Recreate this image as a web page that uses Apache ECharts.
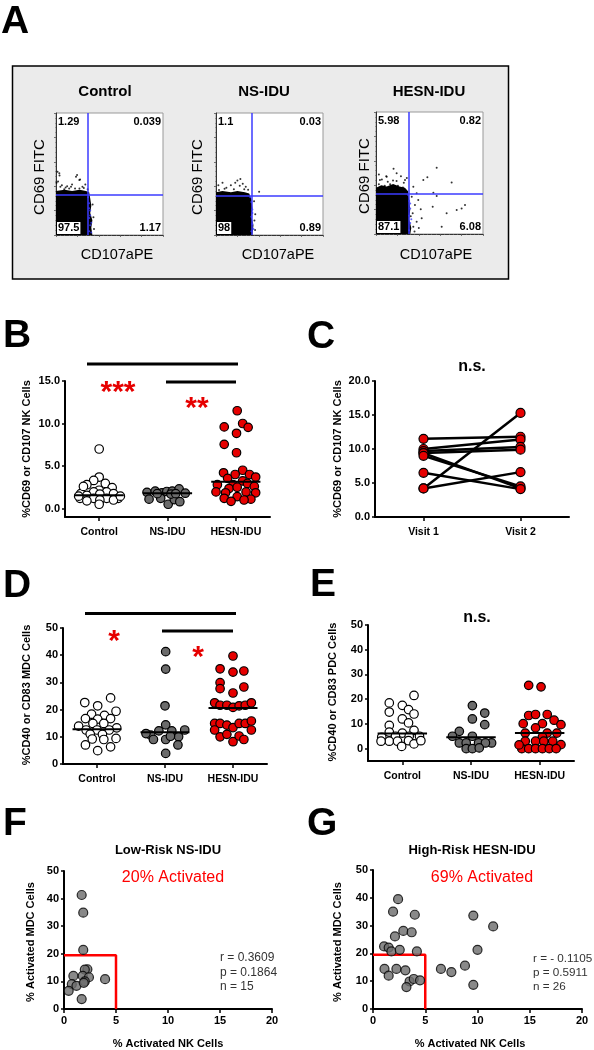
<!DOCTYPE html>
<html><head><meta charset="utf-8">
<script src="https://cdn.jsdelivr.net/npm/echarts@6/dist/echarts.min.js"></script>
<style>html,body{margin:0;padding:0;background:#fff}#c{width:594px;height:1050px}</style>
</head><body><div id="c"></div>
<script>
// ================= DATA =================
const groups = ['Control', 'NS-IDU', 'HESN-IDU'];
const visits = ['Visit 1', 'Visit 2'];

// Panel A – flow cytometry (axes 0-100 arbitrary units)
const flowTitles = ['Control', 'NS-IDU', 'HESN-IDU'];
const flowQuadrants = [['1.29', '0.039', '97.5', '1.17'], ['1.1', '0.03', '98', '0.89'], ['5.98', '0.82', '87.1', '6.08']];
const flowGates = [[30, 33], [33, 32], [31, 33]];
const flowBlobControl = [[0,36],[8,37],[15,36],[22,37],[28,36],[31,35],[32,30],[33,24],[32,18],[34,12],[33,6],[34,0],[0,0]];
const flowBlobNS = [[0,35],[6,36],[14,35],[20,36],[27,35],[31,34],[33,30],[34,22],[33,15],[35,8],[34,0],[0,0]];
const flowBlobHESN = [[0,38],[5,40],[10,39],[16,41],[22,39],[27,38],[30,35],[31,28],[32,20],[31,12],[33,5],[32,0],[0,0]];
const flowDotsControl = [[1.4,51.8],[3.3,48.7],[1.9,43.9],[5.5,40.8],[10.4,40],[15,41.3],[19.7,49.2],[22.5,45.5],[24.7,39.5],[27.4,41.3],[12.3,38.2],[17.8,38.2],[7.7,37.6],[29.6,37.6],[4.1,39.5],[21.9,38.2],[0.5,42.9],[3.1,50.6],[18.7,47.8],[21.8,45],[34.2,25],[35,14.5],[35.5,5],[9,39],[26,38.5],[14,39.5]];
const flowDotsNS = [[2.2,40.8],[6.1,42.9],[9.7,38.7],[13.9,40.8],[18,42.9],[20,44.7],[22.2,40.3],[25,42.1],[27.8,39.5],[2.8,36.8],[16.7,37.6],[26.4,37.6],[22.8,46],[40.3,35.5],[35.6,27.6],[36.7,17.1],[35.9,11.8],[36.5,4],[8,38],[30,37]];
const flowDotsHESN = [[2.7,48.7],[5.5,44.7],[9.6,47.4],[16.4,53.4],[19.2,43.4],[23.3,47.4],[26,42.1],[13.2,40.8],[20.5,39.5],[8.2,39.5],[28.8,46],[2.7,40.8],[15.9,43.9],[25.2,38.2],[11,42.9],[4.7,36],[19.3,49.8],[27.1,44.3],[10,47],[3.7,44.3],[56.7,54.4],[70.7,42.3],[44.2,44.3],[48,46.5],[53.6,33.9],[56.7,31.1],[66,17],[75.4,19.7],[83.2,23.8],[80,21],[61.4,6],[53,22.4],[42.7,12.9],[39.5,27.9],[36.4,23.8],[41.8,20.2],[34.9,38.8],[38,33.4],[33.4,30.6],[34.3,17],[38,10],[34.9,6],[32.5,14.5],[36,2],[40,5]];
const flowBlueControl = [[31,3],[32,8],[31,14],[32,20],[31,26],[30,31],[33,10],[32,16],[33,2],[31,22]];
const flowBlueNS = [[33,3],[34,9],[33,15],[34,21],[33,27],[32,31],[35,5],[34,18]];
const flowBlueHESN = [[31,3],[32,9],[31,15],[32,21],[31,27],[30,32],[33,12],[32,25]];

// Panel B – %CD69 or CD107 NK cells (values, horizontal jitter in category units)
const bControl = [7.0,3.7,3.3,2.8,2.95,2.45,2.15,1.95,1.95,1.75,1.55,1.75,1.7,1.2,1.2,1.2,1.2,0.9,1.0,1.0,0.5,1.45,1.45,2.6];
const bControlJit = [0.0,0.0,-0.08,-0.18,0.09,0.19,0.0,-0.08,0.11,-0.27,-0.18,0.21,0.01,-0.08,0.11,-0.28,0.28,-0.18,0.01,0.21,0.0,-0.3,0.31,-0.23];
const bNS = [1.9,2.05,1.85,2.0,2.05,2.3,1.8,1.1,1.2,0.5,1.05,0.8,1.75,1.7,1.75];
const bNSJit = [-0.30,-0.18,-0.08,-0.01,0.07,0.17,0.26,-0.27,-0.10,0.01,0.10,0.18,-0.15,0.05,0.12];
const bHESN = [11.5,9.6,10.0,9.55,8.85,7.55,6.56,4.2,4.5,4.0,4.0,3.7,3.55,3.25,2.8,2.8,2.95,2.6,2.35,2.5,1.95,1.85,1.95,1.85,1.2,1.4,1.1,0.85,1.0];
const bHESNJit = [0.02,-0.17,0.10,0.18,0.01,-0.17,0.01,-0.18,0.10,-0.01,0.20,0.29,-0.12,0.10,-0.27,-0.04,0.17,0.27,-0.10,0.02,-0.29,-0.15,0.15,0.29,-0.17,0.02,0.22,-0.07,0.12];
const bMedians = [1.55, 1.8, 3.15];

// Panel C – paired visits
const cVisit1 = [11.5, 10.0, 9.7, 9.4, 9.4, 9.0, 6.5, 4.2, 4.2];
const cVisit2 = [11.8, 11.4, 10.3, 9.9, 4.2, 4.5, 4.1, 15.3, 6.6];

// Panel D – %CD40 or CD83 MDC cells
const dControl = [24.3,22.6,21.4,19.4,18.3,17.9,16.7,16.7,16.5,14.9,14.9,13.9,13.3,12.5,12.5,12.5,10.9,11.0,9.2,9.4,9.0,7.0,6.3,4.9];
const dControlJit = [0.20,-0.18,0.01,0.28,-0.08,0.11,-0.17,0.20,0.01,-0.06,0.10,-0.27,0.29,-0.16,0.0,0.18,0.08,-0.1,-0.07,0.28,0.10,-0.17,0.20,0.01];
const dNS = [41.3,34.9,21.4,14.4,12.2,12.2,12.5,10.6,9.0,9.0,10.0,7.0,3.9,11.2,10.2];
const dNSJit = [0.01,0.01,0.0,0.01,-0.09,0.10,0.29,-0.21,-0.17,0.01,0.20,0.19,0.01,-0.28,0.08];
const dHESN = [39.7,35.0,33.8,34.2,29.9,27.7,28.3,26.1,22.5,21.6,21.6,20.8,21.4,21.6,22.5,14.9,14.9,14.3,13.4,14.9,14.9,15.8,10.0,10.9,8.2,10.3,9.0,12.5,12.5];
const dHESNJit = [0.0,-0.19,0.0,0.16,-0.19,-0.19,0.16,0.0,-0.27,-0.19,-0.09,0.0,0.09,0.18,0.27,-0.27,-0.19,-0.09,0.0,0.09,0.18,0.27,-0.19,-0.09,0.0,0.09,0.16,0.27,-0.27];
const dMedians = [12.8, 11.7, 20.6];

// Panel E – %CD40 or CD83 PDC cells
const eControl = [21.5,18.5,17.5,15.8,14.8,14.0,12.0,10.4,9.4,7.4,6.7,6.3,4.6,5.0,5.0,5.0,3.0,3.0,3.2,1.9,3.2,0.9,3.0];
const eControlJit = [0.17,-0.19,0.0,0.09,-0.19,0.17,0.0,0.09,-0.19,0.17,-0.19,0.0,-0.3,-0.1,0.1,0.25,-0.19,-0.07,0.09,0.17,0.27,-0.01,-0.31];
const eNS = [17.4,12.0,14.4,9.7,7.0,5.0,5.0,2.3,2.3,2.3,2.3,0.0,0.0,2.3,0.3];
const eNSJit = [0.02,0.02,0.2,0.2,-0.17,0.02,-0.27,-0.17,-0.07,0.11,0.3,-0.07,0.02,0.21,0.12];
const eHESN = [25.6,25.0,13.4,13.8,13.8,11.5,9.7,10.1,10.1,8.4,6.3,6.3,6.3,4.7,3.0,3.0,3.0,3.0,1.6,0,0,0,0,0,0,1.5];
const eHESNJit = [-0.16,0.02,-0.16,-0.06,0.11,0.21,0.31,-0.24,0.04,-0.06,-0.21,0.11,0.25,0.04,-0.21,-0.06,0.06,0.19,0.31,-0.26,-0.16,-0.06,0.04,0.14,0.24,-0.3];
const eMedians = [6.1, 4.6, 6.3];

// Panels F, G – correlation
const fNK = [1.7,1.85,1.85,2.25,2.0,0.9,1.8,2.4,3.95,0.75,1.2,2.0,1.9,0.45,1.7];
const fMDC = [41.3,34.9,21.4,14.4,14.3,12.0,12.0,11.5,10.8,9.0,8.4,10.0,9.5,6.6,3.6];
const gNK = [2.4,1.92,4.0,9.6,11.5,2.9,3.7,2.1,1.06,1.5,1.76,2.56,4.2,10.0,1.1,2.24,3.1,1.5,3.5,3.9,3.2,4.5,6.5,7.5,8.8,9.6];
const gMDC = [39.5,35.0,33.9,33.6,29.7,28.1,27.6,26.1,22.5,22.1,20.7,21.3,20.7,21.3,14.4,14.4,13.9,12.0,9.9,10.8,7.9,10.3,14.4,13.3,15.6,8.7];
const activationThreshold = [5, 19.5];   // NK %, MDC %
const fTitle = 'Low-Risk NS-IDU', gTitle = 'High-Risk HESN-IDU';
const fActivated = '20% Activated', gActivated = '69% Activated';
const fStats = ['r = 0.3609', 'p = 0.1864', 'n = 15'];
const gStats = ['r = - 0.1105', 'p = 0.5911', 'n = 26'];

// ================= STYLE / LAYOUT =================
const FONT = '"Liberation Sans", Arial, Helvetica, sans-serif';
const WHITE = '#ffffff', GRAY = '#6b6b6b', RED = '#e60000';
const grids = [
  {left:56, top:113, width:107, height:122},
  {left:216, top:113, width:107, height:122},
  {left:376, top:112, width:107, height:122},
  {left:65, top:381, width:205, height:136},   // B
  {left:375, top:381, width:194, height:136},  // C
  {left:63, top:628, width:204, height:136},   // D
  {left:368, top:625, width:206, height:136},  // E
  {left:64, top:871, width:208, height:138},   // F
  {left:373, top:870, width:209, height:139}   // G
];

function txt(x, y, text, o) {
  o = o || {};
  return {type:'text', x:x, y:y, rotation:o.rot || 0, z:50,
    style:{text:text, fill:o.color || '#000',
      font:(o.weight || 'bold') + ' ' + (o.size || 11) + 'px ' + FONT,
      align:o.align || 'center', verticalAlign:o.va || 'middle',
      backgroundColor:o.bg, padding:o.pad}};
}
function hline(x1, x2, y, w) {
  return {type:'line', z:50, shape:{x1:x1, y1:y, x2:x2, y2:y}, style:{stroke:'#000', lineWidth:w || 3}};
}

const axLine = {show:true, onZero:false, lineStyle:{color:'#000', width:2}};
const axTick = {show:true, length:4, lineStyle:{color:'#000', width:1.5}};
const axLabel = {color:'#000', fontWeight:'bold', fontSize:11, fontFamily:FONT, margin:6};

function catXAxis(gi, names) {
  const vals = names.map((n, i) => i + 1);
  return {type:'value', gridIndex:gi, min:0.5, max:names.length + 0.5,
    axisLine:axLine, splitLine:{show:false},
    axisTick:Object.assign({}, axTick, {customValues:vals}),
    axisLabel:Object.assign({}, axLabel, {customValues:vals, fontSize:10.5, margin:10,
      formatter:v => names[Math.round(v) - 1]})};
}
function valYAxis(gi, min, max, ticks, dec) {
  return {type:'value', gridIndex:gi, min:min, max:max,
    axisLine:axLine, splitLine:{show:false},
    axisTick:Object.assign({}, axTick, {customValues:ticks, length:3}),
    axisLabel:Object.assign({}, axLabel, {customValues:ticks, margin:5,
      formatter:v => dec ? v.toFixed(1) : String(v)})};
}
function valXAxis(gi, min, max, ticks) {
  return {type:'value', gridIndex:gi, min:min, max:max,
    axisLine:axLine, splitLine:{show:false},
    axisTick:Object.assign({}, axTick, {customValues:ticks}),
    axisLabel:Object.assign({}, axLabel, {customValues:ticks, margin:6})};
}
function flowAxis(gi, dim) {
  return {type:'value', gridIndex:gi, min:0, max:100, interval:20,
    axisLine:{show:true, lineStyle:{color:'#333', width:1}},
    axisTick:{show:true, length:2, lineStyle:{color:'#555', width:0.8}},
    minorTick:{show:true, splitNumber:5, length:1, lineStyle:{color:'#777', width:0.6}},
    axisLabel:{show:false}, splitLine:{show:false}};
}

const xAxes = [flowAxis(0), flowAxis(1), flowAxis(2),
  catXAxis(3, groups), catXAxis(4, visits), catXAxis(5, groups), catXAxis(6, groups),
  valXAxis(7, 0, 20, [0,5,10,15,20]), valXAxis(8, 0, 20, [0,5,10,15,20])];
const yAxes = [flowAxis(0), flowAxis(1), flowAxis(2),
  valYAxis(3, -1, 15, [0,5,10,15], true),
  valYAxis(4, 0, 20, [0,5,10,15,20], true),
  valYAxis(5, 0, 50, [0,10,20,30,40,50], false),
  valYAxis(6, -5, 50, [0,10,20,30,40,50], false),
  valYAxis(7, 0, 50, [0,10,20,30,40,50], false),
  valYAxis(8, 0, 50, [0,10,20,30,40,50], false)];

const series = [];
// ---- Panel A flow plots
const blobs = [flowBlobControl, flowBlobNS, flowBlobHESN];
const dots = [flowDotsControl, flowDotsNS, flowDotsHESN];
const blues = [flowBlueControl, flowBlueNS, flowBlueHESN];
for (let i = 0; i < 3; i++) {
  const blob = blobs[i];
  series.push({type:'custom', xAxisIndex:i, yAxisIndex:i, silent:true, data:[[50,50]], z:2,
    renderItem:(p, api) => ({type:'polygon', shape:{points:blob.map(q => api.coord(q))}, style:{fill:'#000'}})});
  series.push({type:'scatter', xAxisIndex:i, yAxisIndex:i, silent:true, data:dots[i], symbolSize:2, z:3,
    itemStyle:{color:'#000'},
    markLine:{silent:true, symbol:'none', label:{show:false}, lineStyle:{color:'#3b3bff', width:1.5, type:'solid'},
      data:[{xAxis:flowGates[i][0]}, {yAxis:flowGates[i][1]}]}});
  series.push({type:'scatter', xAxisIndex:i, yAxisIndex:i, silent:true, data:blues[i], symbolSize:2, z:4,
    itemStyle:{color:'#3b3bff'}});
}
// ---- dot plots
function dotSeries(gi, vals, jit, cat, color) {
  return {type:'scatter', xAxisIndex:gi, yAxisIndex:gi, silent:true, z:5,
    data:vals.map((v, k) => [cat + jit[k], v]), symbolSize:8.5,
    itemStyle:{color:color, borderColor:'#000', borderWidth:1.2, opacity:1}};
}
function medianSeries(gi, meds) {
  return {type:'custom', xAxisIndex:gi, yAxisIndex:gi, silent:true, z:6,
    data:meds.map((m, i) => [i + 1, m]),
    renderItem:(p, api) => {
      const c = api.value(0), m = api.value(1);
      const a = api.coord([c - 0.36, m]), b = api.coord([c + 0.36, m]);
      return {type:'line', shape:{x1:a[0], y1:a[1], x2:b[0], y2:b[1]}, style:{stroke:'#000', lineWidth:2}};
    }};
}
const cols = [WHITE, GRAY, RED];
[[3, [bControl, bNS, bHESN], [bControlJit, bNSJit, bHESNJit], bMedians],
 [5, [dControl, dNS, dHESN], [dControlJit, dNSJit, dHESNJit], dMedians],
 [6, [eControl, eNS, eHESN], [eControlJit, eNSJit, eHESNJit], eMedians]].forEach(([gi, vs, js, meds]) => {
  vs.forEach((v, k) => series.push(dotSeries(gi, v, js[k], k + 1, cols[k])));
  series.push(medianSeries(gi, meds));
});
// ---- Panel C paired lines
cVisit1.forEach((v1, k) => {
  series.push({type:'line', xAxisIndex:4, yAxisIndex:4, silent:true, z:5,
    data:[[1, v1], [2, cVisit2[k]]], symbol:'circle', symbolSize:9, showSymbol:true,
    lineStyle:{color:'#000', width:2.5}, itemStyle:{color:RED, borderColor:'#000', borderWidth:1.2}});
});
// ---- Panels F, G
[[7, fNK, fMDC], [8, gNK, gMDC]].forEach(([gi, xs, ys]) => {
  series.push({type:'line', xAxisIndex:gi, yAxisIndex:gi, silent:true, z:4, symbol:'none',
    data:[[0, activationThreshold[1]], [activationThreshold[0], activationThreshold[1]], [activationThreshold[0], 0]],
    lineStyle:{color:'#ff0000', width:2.5}});
  series.push({type:'scatter', xAxisIndex:gi, yAxisIndex:gi, silent:true, z:5,
    data:xs.map((x, k) => [x, ys[k]]), symbolSize:9,
    itemStyle:{color:GRAY, borderColor:'#000', borderWidth:1.2}});
});

// ---- graphics (annotations / text)
const G = [];
G.push({type:'rect', z:-10, shape:{x:12.5, y:66, width:496, height:213}, style:{fill:'#ebebeb', stroke:'#000', lineWidth:1.5}});
const letters = [['A',1,22],['B',3,336],['C',307,337],['D',3,586],['E',310,585],['F',3,824],['G',307,824]];
letters.forEach(([t, x, y]) => G.push(txt(x, y, t, {size:39, align:'left'})));
// A titles & labels
const flowTitleX = [105, 264, 429];
const yNameX = [40, 198, 365], xNameX = [117, 278, 436];
for (let i = 0; i < 3; i++) {
  const g = grids[i];
  G.push(txt(flowTitleX[i], 92, flowTitles[i], {size:15}));
  G.push(txt(yNameX[i], g.top + 64, 'CD69 FITC', {size:15, weight:'normal', rot:Math.PI / 2}));
  G.push(txt(xNameX[i], 255, 'CD107aPE', {size:14.5, weight:'normal'}));
  const q = flowQuadrants[i];
  G.push(txt(g.left + 2, g.top + 9, q[0], {size:11, align:'left'}));
  G.push(txt(g.left + g.width - 2, g.top + 9, q[1], {size:11, align:'right'}));
  G.push(txt(g.left + 1, g.top + g.height - 7, q[2], {size:11, align:'left', bg:'#fff', pad:[1, 1, 0, 1]}));
  G.push(txt(g.left + g.width - 2, g.top + g.height - 7, q[3], {size:11, align:'right'}));
}
// axis titles
G.push(txt(27, 449, '%CD69 or CD107 NK Cells', {rot:Math.PI / 2}));
G.push(txt(338, 449, '%CD69 or CD107 NK Cells', {rot:Math.PI / 2}));
G.push(txt(27, 695, '%CD40 or CD83 MDC Cells', {rot:Math.PI / 2}));
G.push(txt(333, 692, '%CD40 or CD83 PDC Cells', {rot:Math.PI / 2}));
G.push(txt(31, 942, '% Activated MDC Cells', {rot:Math.PI / 2}));
G.push(txt(338, 942, '% Activated MDC Cells', {rot:Math.PI / 2}));
G.push(txt(168, 1044, '% Activated NK Cells'));
G.push(txt(470, 1044, '% Activated NK Cells'));
// significance
G.push(hline(87, 238, 364, 3), hline(166, 236, 382, 3));
G.push(txt(118, 393, '***', {size:30, color:RED}));
G.push(txt(197, 409, '**', {size:30, color:RED}));
G.push(hline(85, 236, 613.5, 3), hline(162, 233, 631, 3));
G.push(txt(114, 642, '*', {size:30, color:RED}));
G.push(txt(198, 658, '*', {size:30, color:RED}));
G.push(txt(472, 367, 'n.s.', {size:16}));
G.push(txt(477, 618, 'n.s.', {size:16}));
// F, G texts
G.push(txt(168, 850, fTitle, {size:13}));
G.push(txt(472, 850, gTitle, {size:13}));
G.push(txt(173, 878, fActivated, {size:16, weight:'normal', color:'#ff0000'}));
G.push(txt(482, 878, gActivated, {size:16, weight:'normal', color:'#ff0000'}));
fStats.forEach((s, i) => G.push(txt(220, 958 + i * 14.5, s, {size:12, weight:'normal', align:'left', color:'#333'})));
gStats.forEach((s, i) => G.push(txt(533, 959 + i * 14, s, {size:11.7, weight:'normal', align:'left', color:'#333'})));

const option = {
  animation:false,
  backgroundColor:'#fff',
  grid:grids.map((g, i) => Object.assign({outerBoundsMode:'none', containLabel:false}, g,
    i < 3 ? {show:true, backgroundColor:'#fff', borderColor:'#999', borderWidth:1} : {show:false})),
  xAxis:xAxes, yAxis:yAxes, series:series, graphic:{elements:G}
};
const chart = echarts.init(document.getElementById('c'));
chart.setOption(option);
</script></body></html>
